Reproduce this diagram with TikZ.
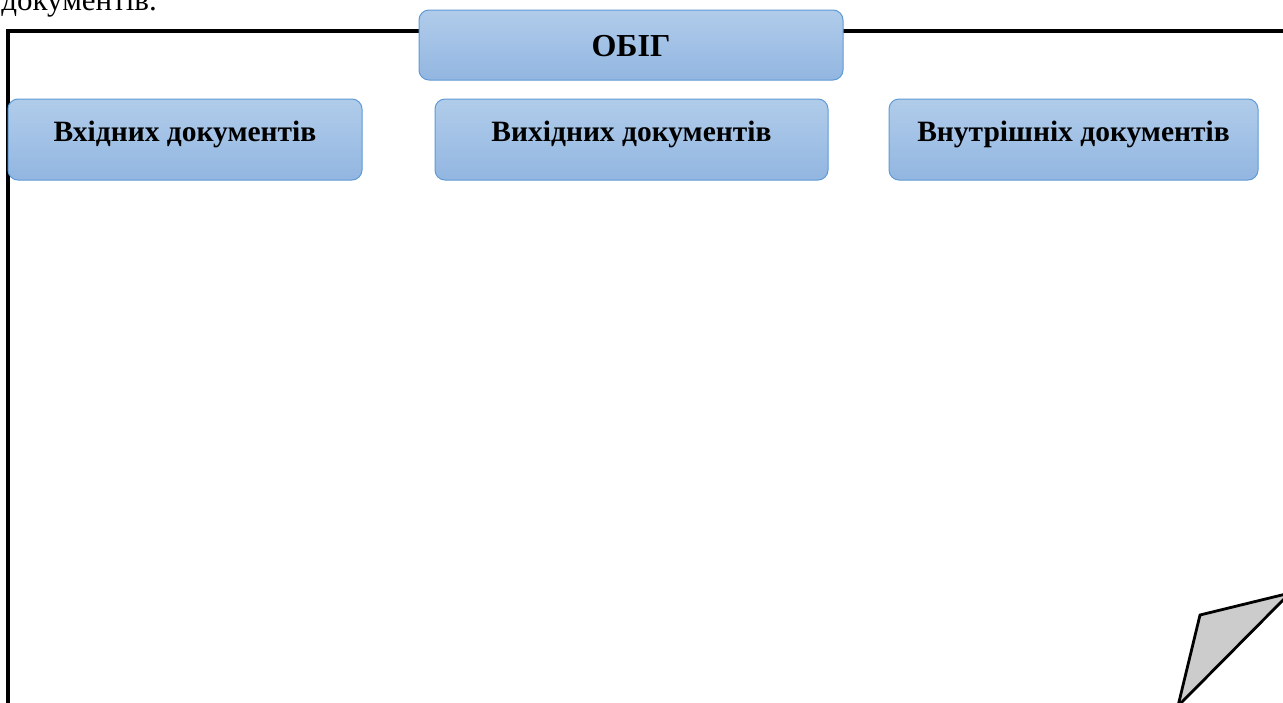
\documentclass[tikz,border=0pt]{standalone}
\usepackage{fontspec}
\setmainfont{Liberation Serif}
\usetikzlibrary{shadings}
\definecolor{boxtop}{HTML}{B1CCEA}
\definecolor{boxbot}{HTML}{92B6E1}
\definecolor{boxline}{HTML}{5E9BD6}
\definecolor{foldfill}{HTML}{CCCCCC}
\tikzset{
  blue box/.style={draw=boxline, line width=1pt, rounded corners=10pt,
    top color=boxtop, bottom color=boxbot, inner sep=0pt,
    font=\bfseries, text=black},
  frame line/.style={line width=3.2pt, black},
  box text/.style={font=\fontsize{29.5}{34}\selectfont\bfseries, inner sep=0pt, anchor=base},
}
\begin{document}
\begin{tikzpicture}[x=1pt,y=-1pt]
\useasboundingbox (0,0) rectangle (1283,702);
\clip (0,0) rectangle (1283,702);
\fill[white] (0,0) rectangle (1283,702);
% partial text at top
\node[anchor=base east, inner sep=0pt, font=\fontsize{31}{36}\selectfont] (prev) at (157,10) {документів.};
% frame
\draw[frame line] (1290,31) -- (8,31) -- (8,710);
% fold
\draw[line width=2.8pt, fill=foldfill, line join=miter] (1200,615) -- (1290,593) -- (1178,706) -- cycle;
% boxes
\path[blue box] (419,10) rectangle (843,80);
\node[font=\fontsize{32}{38}\selectfont\bfseries, inner sep=0pt, anchor=base] (obig) at (631,56) {ОБІГ};
\path[blue box] (8,99) rectangle (362,180);
\node[box text] (vkh) at (185,141) {Вхідних документів};
\path[blue box] (435,99) rectangle (828,180);
\node[box text] (vykh) at (631.5,141) {Вихідних документів};
\path[blue box] (889,99) rectangle (1258,180);
\node[box text] (vnut) at (1073.5,141) {Внутрішніх документів};
\end{tikzpicture}
\end{document}
